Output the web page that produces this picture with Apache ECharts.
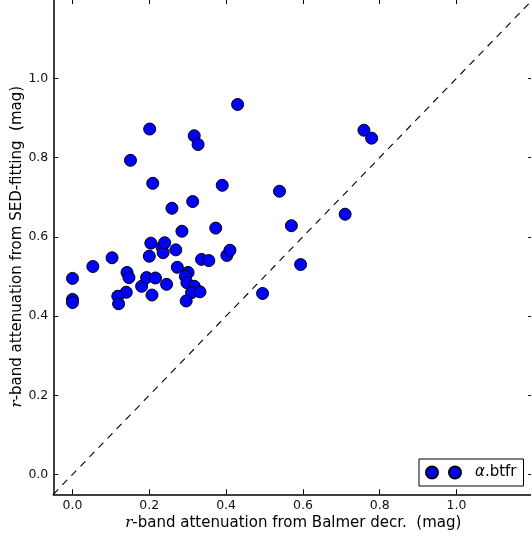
<!DOCTYPE html>
<html>
<head>
<meta charset="utf-8">
<script src="https://cdn.jsdelivr.net/npm/echarts@6/dist/echarts.min.js"></script>
<style>
  html, body { margin: 0; padding: 0; background: #fff; }
  #chart { width: 531px; height: 539px; }
</style>
</head>
<body>
<div id="chart"></div>
<script>
// r-band attenuation: Balmer decrement (x) vs SED fitting (y), in mag
const balmerAtt = [
  0.000, 0.000, 0.000, 0.053, 0.103, 0.142, 0.147, 0.140, 0.118, 0.120,
  0.151, 0.180, 0.193, 0.216, 0.207, 0.200, 0.204, 0.201, 0.209, 0.233,
  0.236, 0.240, 0.245, 0.259, 0.269, 0.273, 0.285, 0.301, 0.294, 0.298,
  0.317, 0.310, 0.332, 0.296, 0.313, 0.317, 0.327, 0.336, 0.355, 0.373,
  0.390, 0.402, 0.410, 0.430, 0.495, 0.539, 0.570, 0.594, 0.710, 0.759,
  0.779
];
const sedAtt = [
  0.495, 0.442, 0.434, 0.525, 0.547, 0.510, 0.497, 0.460, 0.450, 0.431,
  0.793, 0.475, 0.497, 0.496, 0.453, 0.551, 0.584, 0.872, 0.735, 0.574,
  0.560, 0.585, 0.480, 0.672, 0.567, 0.523, 0.614, 0.510, 0.500, 0.484,
  0.475, 0.459, 0.461, 0.438, 0.689, 0.855, 0.833, 0.543, 0.540, 0.622,
  0.730, 0.553, 0.566, 0.934, 0.457, 0.715, 0.628, 0.530, 0.657, 0.869,
  0.849
];
// one-to-one reference line endpoints
const oneToOne = [-0.05, 1.2];
// tick positions shown on both axes
const tickValues = [0.0, 0.2, 0.4, 0.6, 0.8, 1.0];
const axisMin = -0.05;
const axisMax = 1.2;
const seriesName = 'α.btfr';

const points = balmerAtt.map((x, i) => [x, sedAtt[i]]);
const linePts = oneToOne.map(v => [v, v]);

const baseFont = 'DejaVu Sans';
const fmt = v => v.toFixed(1);

function mainAxis(position, nameText, nameGap, rotate) {
  return {
    type: 'value',
    position: position,
    min: axisMin,
    max: axisMax,
    name: nameText,
    nameLocation: 'middle',
    nameGap: nameGap,
    nameRotate: rotate,
    nameMoveOverlap: false,
    nameTextStyle: {
      fontFamily: baseFont, fontSize: 15, color: '#000',
      rich: {
        i: { fontFamily: 'DejaVu Serif', fontStyle: 'italic', fontSize: 15, color: '#000' },
        t: { fontFamily: baseFont, fontSize: 15, color: '#000' }
      }
    },
    axisLine: { show: true, onZero: false, lineStyle: { color: '#000', width: 1.5 } },
    axisTick: { show: true, inside: true, length: 5, customValues: tickValues, lineStyle: { color: '#000', width: 1 } },
    axisLabel: { show: true, customValues: tickValues, formatter: fmt, fontFamily: baseFont, fontSize: 12.5, color: '#111', margin: 5 },
    splitLine: { show: false }
  };
}

// top and right axes carry only inward ticks
function mirrorAxis(position) {
  return {
    type: 'value',
    position: position,
    min: axisMin,
    max: axisMax,
    axisLine: { show: false, onZero: false },
    axisTick: { show: true, inside: true, length: 5, customValues: tickValues, lineStyle: { color: '#000', width: 1 } },
    axisLabel: { show: false },
    splitLine: { show: false }
  };
}

const chart = echarts.init(document.getElementById('chart'), null, { renderer: 'canvas' });
chart.setOption({
  animation: false,
  backgroundColor: '#fff',
  grid: {
    left: 53.3, top: -0.9, width: 480, height: 495.2,
    containLabel: false,
    outerBoundsMode: 'none'
  },
  xAxis: [
    mainAxis('bottom', '{i|r}{t|-band attenuation from Balmer decr.  (mag)}', 21, 0),
    mirrorAxis('top')
  ],
  yAxis: [
    mainAxis('left', '{i|r}{t|-band attenuation from SED-fitting  (mag)}', 29, 90),
    mirrorAxis('right')
  ],
  legend: {
    data: [seriesName],
    left: 419,
    top: 459,
    orient: 'horizontal',
    padding: [6, 7, 6, 6],
    itemWidth: 35,
    itemHeight: 12,
    icon: 'path://M0,6A6,6,0,1,1,12,6A6,6,0,1,1,0,6Z M23,6A6,6,0,1,1,35,6A6,6,0,1,1,23,6Z',
    backgroundColor: '#fff',
    borderColor: '#000',
    borderWidth: 1,
    borderRadius: 0,
    formatter: () => '{a|α}{b|.btfr}',
    textStyle: {
      padding: [0, 0, 0, 9],
      rich: {
        a: { fontFamily: baseFont, fontStyle: 'italic', fontSize: 15, color: '#000' },
        b: { fontFamily: baseFont, fontSize: 15, color: '#000' }
      }
    }
  },
  series: [
    {
      type: 'line',
      data: linePts,
      xAxisIndex: 0,
      yAxisIndex: 0,
      showSymbol: false,
      silent: true,
      lineStyle: { color: '#000', width: 1.1, type: [7, 6] },
      z: 1
    },
    {
      name: seriesName,
      type: 'scatter',
      data: points,
      xAxisIndex: 0,
      yAxisIndex: 0,
      symbol: 'circle',
      symbolSize: 12,
      itemStyle: { color: '#0000ff', borderColor: '#000', borderWidth: 1, opacity: 1 },
      z: 3
    }
  ]
});
</script>
</body>
</html>
